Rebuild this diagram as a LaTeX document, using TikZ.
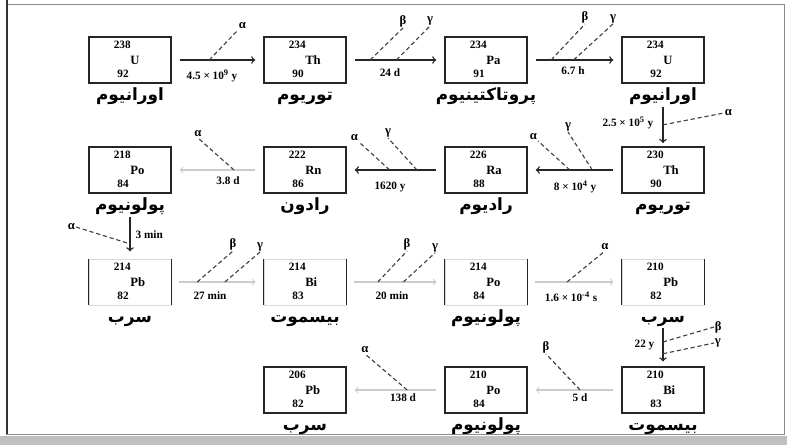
\documentclass[tikz,border=0pt]{standalone}
\usepackage{fontspec}
\setmainfont{Liberation Serif}
\newfontfamily\farsifont[Script=Arabic]{DejaVu Sans}
\TeXXeTstate=1
\usetikzlibrary{positioning}

\tikzset{
  nucbox/.style={draw=black!85, line width=1pt, minimum width=2.05cm,
                 minimum height=1.15cm, inner sep=0pt},
  fadebox/.style={draw=black!15, line width=0.6pt, minimum width=2.05cm,
                  minimum height=1.15cm, inner sep=0pt},
  side/.style={line width=1.2pt, black!85},
  nucnum/.style={font=\footnotesize\bfseries, inner sep=0pt},
  elem/.style={font=\small\bfseries, inner sep=0pt},
  farsi/.style={font=\farsifont\large\bfseries, inner sep=1pt,
                text height=10pt, text depth=3pt},
  decay/.style={->, line width=1pt, black!85, shorten <=0.2cm, shorten >=0.2cm},
  faint/.style={->, line width=0.8pt, black!20, shorten <=0.2cm, shorten >=0.2cm},
  emit/.style={densely dashed, line width=0.8pt, black!75},
  ray/.style={font=\small\bfseries, inner sep=0.5pt},
  halflife/.style={font=\footnotesize\bfseries, inner sep=1pt}
}

\begin{document}
\begin{tikzpicture}[x=0.025cm, y=-0.025cm]
  \useasboundingbox (0,0) rectangle (787,445);
  % frame of the scan
  \draw[black!45, line width=0.6pt] (6,4) rectangle (784,434);
  \draw[black!80, line width=2pt] (7,0) -- (7,434);
  \fill[black!25] (0,436) rectangle (787,445);

  % nuclides
  \foreach \n/\x/\y/\st/\A/\Z/\s/\fa in {
      u238/130/60/nucbox/238/92/U/اورانیوم,
      th234/305/60/nucbox/234/90/Th/توریوم,
      pa234/486/60/nucbox/234/91/Pa/پروتاکتینیوم,
      u234/663/60/nucbox/234/92/U/اورانیوم,
      po218/130/170/nucbox/218/84/Po/پولونیوم,
      rn222/305/170/nucbox/222/86/Rn/رادون,
      ra226/486/170/nucbox/226/88/Ra/رادیوم,
      th230/663/170/nucbox/230/90/Th/توریوم,
      pb214/130/282/fadebox/214/82/Pb/سرب,
      bi214/305/282/fadebox/214/83/Bi/بیسموت,
      po214/486/282/fadebox/214/84/Po/پولونیوم,
      pb210/663/282/fadebox/210/82/Pb/سرب,
      pb206/305/390/nucbox/206/82/Pb/سرب,
      po210/486/390/nucbox/210/84/Po/پولونیوم,
      bi210/663/390/nucbox/210/83/Bi/بیسموت}
  {
    \node[\st] (\n) at (\x,\y) {};
    \node[nucnum, anchor=east] (m\n) at ([shift={(1,-15)}]\n.center) {\A};
    \node[elem, anchor=west] (s\n) at ([shift={(0,0)}]\n.center) {\s};
    \node[nucnum, anchor=east] (z\n) at ([shift={(-1,14)}]\n.center) {\Z};
    \node[farsi, below=0.03cm of \n] (l\n) {\beginR\fa\endR};
  }
  \foreach \n in {pb214,bi214,po214,pb210}
    \draw[side] (\n.north west) -- (\n.south west) (\n.north east) -- (\n.south east);

  % row 1
  \draw[decay] (u238) -- (th234) coordinate[pos=0.41] (e1);
  \node[ray, anchor=south west] (a1) at (238,30) {α};
  \draw[emit] (e1) -- (a1.south west);
  \node[halflife] (t1) at (212,76) {4.5 × 10\textsuperscript{9} y};

  \draw[decay] (th234) -- (pa234) coordinate[pos=0.24] (e2) coordinate[pos=0.51] (e3);
  \node[ray, anchor=south] (b2) at (403,28) {β};
  \node[ray, anchor=south] (g3) at (430,26) {γ};
  \draw[emit] (e2) -- (b2.south);
  \draw[emit] (e3) -- (g3.south);
  \node[halflife] (t2) at (390,73) {24 d};

  \draw[decay] (pa234) -- (u234) coordinate[pos=0.25] (e4) coordinate[pos=0.49] (e5);
  \node[ray, anchor=south] (b4) at (585,24) {β};
  \node[ray, anchor=south] (g5) at (613,24) {γ};
  \draw[emit] (e4) -- (b4.south);
  \draw[emit] (e5) -- (g5.south);
  \node[halflife] (t3) at (573,71) {6.7 h};

  \draw[decay, shorten <=0pt, shorten >=0.08cm] (lu234) -- (th230) coordinate[pos=0.46] (e6);
  \node[ray, anchor=west] (a6) at (724,113) {α};
  \draw[emit] (e6) -- (a6.west);
  \node[halflife, anchor=east] (t4) at (655,123) {2.5 × 10\textsuperscript{5} y};

  % row 2
  \draw[decay] (th230) -- (ra226) coordinate[pos=0.55] (e7) coordinate[pos=0.31] (e8);
  \node[ray, anchor=south east] (a7) at (538,141) {α};
  \node[ray, anchor=south] (g8) at (568,132) {γ};
  \draw[emit] (e7) -- (a7.south east);
  \draw[emit] (e8) -- (g8.south);
  \node[halflife] (t5) at (575,187) {8 × 10\textsuperscript{4} y};

  \draw[decay] (ra226) -- (rn222) coordinate[pos=0.56] (e9) coordinate[pos=0.28] (e10);
  \node[ray, anchor=south east] (a9) at (359,142) {α};
  \node[ray, anchor=south] (g10) at (388,138) {γ};
  \draw[emit] (e9) -- (a9.south east);
  \draw[emit] (e10) -- (g10.south);
  \node[halflife] (t6) at (390,187) {1620 y};

  \draw[faint] (rn222) -- (po218) coordinate[pos=0.32] (e11);
  \node[ray, anchor=south] (a11) at (198,138) {α};
  \draw[emit] (e11) -- (a11.south);
  \node[halflife] (t7) at (228,181) {3.8 d};

  \draw[decay, shorten <=0pt, shorten >=0.18cm] (lpo218) -- (pb214) coordinate[pos=0.65] (e12);
  \node[ray, anchor=east] (a12) at (76,227) {α};
  \draw[emit] (a12.east) -- (e12);
  \node[halflife, anchor=west] (t8) at (134,235) {3 min};

  % row 3
  \draw[faint] (pb214) -- (bi214) coordinate[pos=0.28] (e13) coordinate[pos=0.58] (e14);
  \node[ray, anchor=south] (b13) at (233,251) {β};
  \node[ray, anchor=south] (g14) at (260,252) {γ};
  \draw[emit] (e13) -- (b13.south);
  \draw[emit] (e14) -- (g14.south);
  \node[halflife] (t9) at (210,296) {27 min};

  \draw[faint] (bi214) -- (po214) coordinate[pos=0.32] (e15) coordinate[pos=0.58] (e16);
  \node[ray, anchor=south] (b15) at (407,251) {β};
  \node[ray, anchor=south] (g16) at (435,253) {γ};
  \draw[emit] (e15) -- (b15.south);
  \draw[emit] (e16) -- (g16.south);
  \node[halflife] (t10) at (392,296) {20 min};

  \draw[faint] (po214) -- (pb210) coordinate[pos=0.42] (e17);
  \node[ray, anchor=south] (a17) at (605,251) {α};
  \draw[emit] (e17) -- (a17.south);
  \node[halflife] (t11) at (571,297) {1.6 × 10\textsuperscript{-4} s};

  \draw[decay, shorten <=0pt, shorten >=0.12cm] (lpb210) -- (bi210) coordinate[pos=0.36] (e18) coordinate[pos=0.67] (e19);
  \node[ray, anchor=west] (b18) at (714,327) {β};
  \node[ray, anchor=west] (g19) at (714,343) {γ};
  \draw[emit] (e18) -- (b18.west);
  \draw[emit] (e19) -- (g19.west);
  \node[halflife, anchor=east] (t12) at (656,345) {22 y};

  % row 4
  \draw[faint] (bi210) -- (po210) coordinate[pos=0.44] (e20);
  \node[ray, anchor=south] (b20) at (546,354) {β};
  \draw[emit] (e20) -- (b20.south);
  \node[halflife] (t13) at (580,398) {5 d};

  \draw[faint] (po210) -- (pb206) coordinate[pos=0.38] (e21);
  \node[ray, anchor=south] (a21) at (365,354) {α};
  \draw[emit] (e21) -- (a21.south);
  \node[halflife] (t14) at (403,398) {138 d};
\end{tikzpicture}
\end{document}
